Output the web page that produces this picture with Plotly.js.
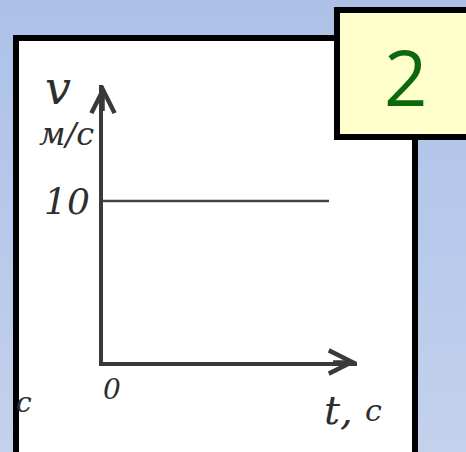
<!DOCTYPE html>
<html>
<head>
<meta charset="utf-8">
<script src="https://cdn.plot.ly/plotly-3.0.1.min.js"></script>
<style>
html,body{margin:0;padding:0;width:466px;height:452px;overflow:hidden;
background:linear-gradient(to bottom,#adc1e8 0%,#b9cbeb 60%,#c3d1ec 100%);}
#chart{width:466px;height:452px;}
</style>
</head>
<body>
<div id="chart"></div>
<script>
// Data: velocity v (м/с) constant over time t (с)
var timeValues = [0, 8.9];
var velocityValues = [10, 10];
var yTickValues = [10];
var yTickLabels = ['10'];
var xTickLabels = ['0'];
var cardNumber = '2';
var yTitle = 'v';
var yUnit = 'м/с';
var xTitle = 't,';
var xUnit = 'с';

var W = 466, H = 452;
var M = {l: 103, r: 109, t: 85, b: 90};
var PW = W - M.l - M.r, PH = H - M.t - M.b;
function px(x){ return (x - M.l) / PW; }
function py(y){ return (H - M.b - y) / PH; }

var ink = '#3a3a3a';
var hand = {family: 'DejaVu Serif, serif', color: '#2e2e2e', style: 'italic'};
function f(s){ return Object.assign({}, hand, {size: s}); }
function label(x, y, text, font){
  return {x: px(x), y: py(y), xref: 'paper', yref: 'paper', xanchor: 'center', yanchor: 'middle',
    showarrow: false, text: text, font: font};
}

var trace = {
  x: timeValues, y: velocityValues, type: 'scatter', mode: 'lines',
  line: {color: '#454545', width: 2.5}, hoverinfo: 'none'
};

var ann = [];
// axis arrowheads
ann.push({x: 0, y: 17.2, ax: 0, ay: 15.5, xref: 'x', yref: 'y', axref: 'x', ayref: 'y',
  showarrow: true, arrowhead: 5, arrowsize: 1.3, arrowwidth: 3.5, arrowcolor: ink, text: '', standoff: 0});
ann.push({x: 10, y: 0, ax: 9, ay: 0, xref: 'x', yref: 'y', axref: 'x', ayref: 'y',
  showarrow: true, arrowhead: 5, arrowsize: 1.3, arrowwidth: 3.5, arrowcolor: ink, text: '', standoff: 0});
// tick labels
yTickValues.forEach(function(v, i){
  ann.push({x: 0, y: v, xref: 'x', yref: 'y', xanchor: 'right', yanchor: 'middle', xshift: -11, yshift: -1,
    showarrow: false, text: yTickLabels[i], font: f(36)});
});
ann.push({x: 0, y: 0, xref: 'x', yref: 'y', xanchor: 'center', yanchor: 'middle', xshift: 9, yshift: -27,
  showarrow: false, text: xTickLabels[0], font: f(28)});
// axis titles
ann.push(label(58, 88, yTitle, f(46)));
ann.push(label(66, 134, yUnit, f(32)));
ann.push(label(338, 410, xTitle, f(40)));
ann.push(label(373, 410, xUnit, f(30)));
ann.push(label(24, 402, xUnit, f(28)));
// card number
ann.push(label(405, 76, cardNumber, {family: 'Open Sans, DejaVu Sans, sans-serif', size: 76, color: '#0b690b'}));

var shapes = [
  {type: 'rect', xref: 'paper', yref: 'paper', x0: px(16), x1: px(415), y0: py(480), y1: py(38),
   fillcolor: '#ffffff', line: {color: '#000000', width: 6}, layer: 'below'},
  {type: 'rect', xref: 'paper', yref: 'paper', x0: px(337), x1: px(490), y0: py(137), y1: py(10),
   fillcolor: '#ffffcc', line: {color: '#000000', width: 6}, layer: 'below'}
];

var layout = {
  width: W, height: H, margin: M,
  paper_bgcolor: 'rgba(0,0,0,0)', plot_bgcolor: 'rgba(0,0,0,0)',
  showlegend: false,
  xaxis: {range: [0, 10], showline: true, linewidth: 4, linecolor: ink, showgrid: false,
    zeroline: false, showticklabels: false, ticks: '', fixedrange: true},
  yaxis: {range: [0, 17.2], showline: true, linewidth: 4, linecolor: ink, showgrid: false,
    zeroline: false, showticklabels: false, ticks: '', fixedrange: true},
  shapes: shapes, annotations: ann
};
Plotly.newPlot('chart', [trace], layout, {staticPlot: true, displayModeBar: false});
</script>
</body>
</html>
